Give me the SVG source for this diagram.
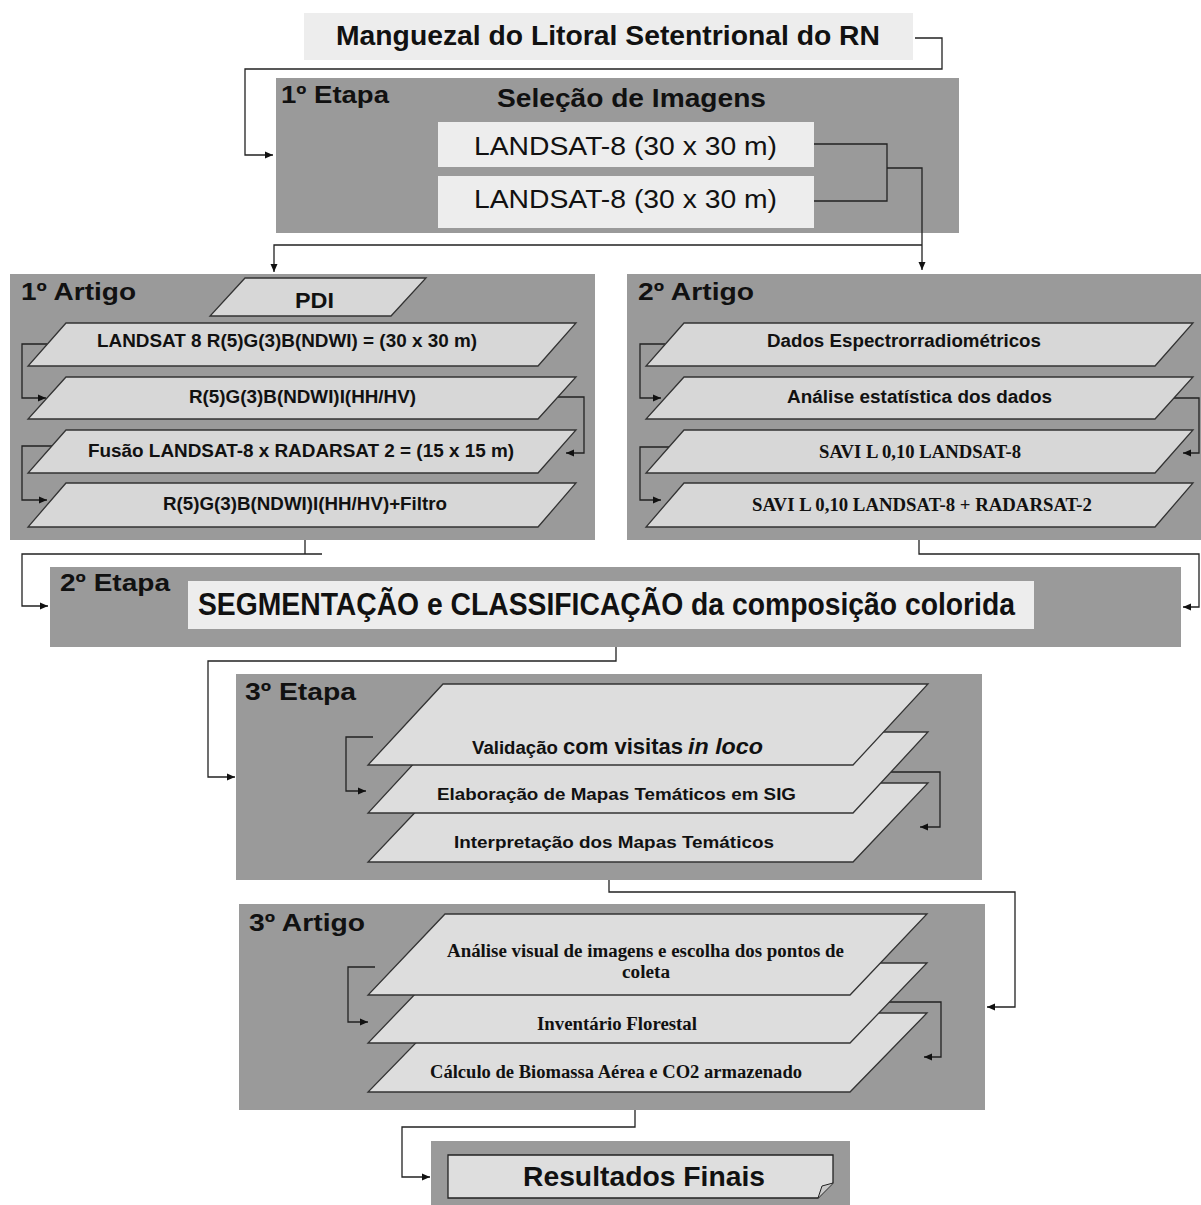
<svg xmlns="http://www.w3.org/2000/svg" width="1201" height="1205" viewBox="0 0 1201 1205">
<defs>
<style>
.panel{fill:#9a9a9a}
.lbox{fill:#ededed}
.para{fill:#d7d7d7;stroke:#333;stroke-width:1.3}
.para3{fill:#dddddd;stroke:#333;stroke-width:1.3}
.conn{fill:none;stroke:#222;stroke-width:1.3}
.arr{marker-end:url(#ah)}
text{fill:#111}
.b{font-family:"Liberation Sans",Arial,sans-serif;font-weight:bold}
.r{font-family:"Liberation Sans",Arial,sans-serif}
.sb{font-family:"Liberation Serif","Times New Roman",serif;font-weight:bold}
</style>
<marker id="ah" markerWidth="9" markerHeight="8" refX="8" refY="4" orient="auto" markerUnits="userSpaceOnUse">
<path d="M0,0.5 L8,4 L0,7.5 z" fill="#111"/>
</marker>
</defs>
<rect width="1201" height="1205" fill="#ffffff"/>

<!-- panels -->
<g id="etapa1-panel"><rect class="panel" x="276" y="78" width="683" height="155"/></g>
<g id="artigo1-panel"><rect class="panel" x="10" y="274" width="585" height="266"/></g>
<g id="artigo2-panel"><rect class="panel" x="627" y="274" width="574" height="266"/></g>
<g id="etapa2-panel"><rect class="panel" x="50" y="567" width="1131" height="80"/></g>
<g id="etapa3-panel"><rect class="panel" x="236" y="674" width="746" height="206"/></g>
<g id="artigo3-panel"><rect class="panel" x="239" y="904" width="746" height="206"/></g>
<g id="resultados-panel"><rect class="panel" x="431" y="1141" width="419" height="64"/></g>

<!-- connectors -->
<g id="connectors">
<path class="conn arr" d="M915,38 H942 V69 H245 V155 H273"/>
<path class="conn" d="M814,144 H887 V201 H814"/>
<path class="conn arr" d="M887,168 H922 V270"/>
<path class="conn arr" d="M922,245 H274 V272"/>
<path class="conn arr" d="M47,344 H22 V398 H46"/>
<path class="conn arr" d="M558,397 H584 V453 H566"/>
<path class="conn arr" d="M52,446 H22 V500 H47"/>
<path class="conn arr" d="M665,344 H640 V398 H661"/>
<path class="conn arr" d="M1174,398 H1199 V453 H1183"/>
<path class="conn arr" d="M669,447 H640 V500 H661"/>
<path class="conn" d="M305,540 V554"/>
<path class="conn arr" d="M322,554 H22 V606 H48"/>
<path class="conn arr" d="M919,540 V554 H1199 V607 H1183"/>
<path class="conn arr" d="M616,647 V661 H208 V777 H235"/>
<path class="conn arr" d="M373,737 H346 V791 H366"/>
<path class="conn arr" d="M891,772 H940 V827 H920"/>
<path class="conn arr" d="M609,880 V892 H1015 V1007 H987"/>
<path class="conn arr" d="M375,967 H348 V1022 H368"/>
<path class="conn arr" d="M880,1002 H941 V1057 H924"/>
<path class="conn arr" d="M635,1110 V1127 H402 V1177 H430"/>
</g>

<!-- title -->
<g id="manguezal">
<rect class="lbox" x="304" y="13" width="609" height="47"/>
<text class="b" x="336" y="45" font-size="27" textLength="544" lengthAdjust="spacingAndGlyphs">Manguezal do Litoral Setentrional do RN</text>
</g>

<!-- 1a etapa -->
<g id="etapa1-labels">
<text class="b" x="281" y="103" font-size="24" textLength="108" lengthAdjust="spacingAndGlyphs">1º Etapa</text>
<text class="b" x="497" y="107" font-size="26" textLength="269" lengthAdjust="spacingAndGlyphs">Seleção de Imagens</text>
</g>
<g id="landsat1">
<rect class="lbox" x="438" y="122" width="376" height="45"/>
<text class="r" x="474" y="155" font-size="26" textLength="303" lengthAdjust="spacingAndGlyphs">LANDSAT-8  (30 x 30 m)</text>
</g>
<g id="landsat2">
<rect class="lbox" x="438" y="176" width="376" height="52"/>
<text class="r" x="474" y="208" font-size="26" textLength="303" lengthAdjust="spacingAndGlyphs">LANDSAT-8  (30 x 30 m)</text>
</g>

<!-- 1o artigo -->
<g id="artigo1-label">
<text class="b" x="21" y="300" font-size="24" textLength="115" lengthAdjust="spacingAndGlyphs">1º Artigo</text>
</g>
<g id="pdi">
<polygon class="para" points="245,278 426,278 391,316 210,316"/>
<text class="b" x="295" y="308" font-size="22" textLength="39" lengthAdjust="spacingAndGlyphs">PDI</text>
</g>
<g id="a1-p1">
<polygon class="para" points="66,323 576,323 538,366 28,366"/>
<text class="b" x="97" y="347" font-size="18" textLength="380" lengthAdjust="spacingAndGlyphs">LANDSAT 8 R(5)G(3)B(NDWI) = (30 x 30 m)</text>
</g>
<g id="a1-p2">
<polygon class="para" points="66,377 576,377 538,419 28,419"/>
<text class="b" x="189" y="403" font-size="18" textLength="227" lengthAdjust="spacingAndGlyphs">R(5)G(3)B(NDWI)I(HH/HV)</text>
</g>
<g id="a1-p3">
<polygon class="para" points="66,430 576,430 538,473 28,473"/>
<text class="b" x="88" y="457" font-size="18" textLength="426" lengthAdjust="spacingAndGlyphs">Fusão LANDSAT-8 x RADARSAT 2 = (15 x 15 m)</text>
</g>
<g id="a1-p4">
<polygon class="para" points="66,483 576,483 538,527 28,527"/>
<text class="b" x="163" y="510" font-size="18" textLength="284" lengthAdjust="spacingAndGlyphs">R(5)G(3)B(NDWI)I(HH/HV)+Filtro</text>
</g>

<!-- 2o artigo -->
<g id="artigo2-label">
<text class="b" x="638" y="300" font-size="24" textLength="116" lengthAdjust="spacingAndGlyphs">2º Artigo</text>
</g>
<g id="a2-p1">
<polygon class="para" points="684,323 1193,323 1155,366 646,366"/>
<text class="b" x="767" y="347" font-size="18" textLength="274" lengthAdjust="spacingAndGlyphs">Dados Espectrorradiométricos</text>
</g>
<g id="a2-p2">
<polygon class="para" points="684,377 1193,377 1155,419 646,419"/>
<text class="b" x="787" y="403" font-size="18" textLength="265" lengthAdjust="spacingAndGlyphs">Análise estatística dos dados</text>
</g>
<g id="a2-p3">
<polygon class="para" points="684,430 1193,430 1155,473 646,473"/>
<text class="sb" x="819" y="458" font-size="18" textLength="202" lengthAdjust="spacingAndGlyphs">SAVI L 0,10 LANDSAT-8</text>
</g>
<g id="a2-p4">
<polygon class="para" points="684,483 1193,483 1155,527 646,527"/>
<text class="sb" x="752" y="511" font-size="18" textLength="340" lengthAdjust="spacingAndGlyphs">SAVI L 0,10 LANDSAT-8 + RADARSAT-2</text>
</g>

<!-- 2a etapa -->
<g id="etapa2-label">
<text class="b" x="60" y="591" font-size="24" textLength="110" lengthAdjust="spacingAndGlyphs">2º Etapa</text>
</g>
<g id="segmentacao">
<rect class="lbox" x="188" y="581" width="846" height="48"/>
<text class="b" x="198" y="615" font-size="31" textLength="817" lengthAdjust="spacingAndGlyphs">SEGMENTAÇÃO e CLASSIFICAÇÃO da composição colorida</text>
</g>

<!-- 3a etapa -->
<g id="etapa3-label">
<text class="b" x="245" y="700" font-size="24" textLength="111" lengthAdjust="spacingAndGlyphs">3º Etapa</text>
</g>
<g id="e3-p3">
<polygon class="para3" points="443,783 928,783 853,862 368,862"/>
<text class="b" x="454" y="848" font-size="17" textLength="320" lengthAdjust="spacingAndGlyphs">Interpretação dos Mapas Temáticos</text>
</g>
<g id="e3-p2">
<polygon class="para3" points="443,732 928,732 853,813 368,813"/>
<text class="b" x="437" y="800" font-size="17" textLength="359" lengthAdjust="spacingAndGlyphs">Elaboração de Mapas Temáticos em SIG</text>
</g>
<g id="e3-p1">
<polygon class="para3" points="443,684 928,684 853,765 368,765"/>
<text class="b" y="754"><tspan x="472" font-size="18" textLength="86" lengthAdjust="spacingAndGlyphs">Validação</tspan><tspan x="563" font-size="22" textLength="120" lengthAdjust="spacingAndGlyphs">com visitas</tspan><tspan x="688" font-size="22" font-style="italic" textLength="75" lengthAdjust="spacingAndGlyphs">in loco</tspan></text>
</g>

<!-- 3o artigo -->
<g id="artigo3-label">
<text class="b" x="249" y="931" font-size="24" textLength="116" lengthAdjust="spacingAndGlyphs">3º Artigo</text>
</g>
<g id="a3-p3">
<polygon class="para3" points="445,1013 927,1013 850,1092 368,1092"/>
<text class="sb" x="430" y="1078" font-size="18" textLength="372" lengthAdjust="spacingAndGlyphs">Cálculo de Biomassa Aérea e CO2 armazenado</text>
</g>
<g id="a3-p2">
<polygon class="para3" points="445,963 927,963 850,1043 368,1043"/>
<text class="sb" x="537" y="1030" font-size="18" textLength="160" lengthAdjust="spacingAndGlyphs">Inventário  Florestal</text>
</g>
<g id="a3-p1">
<polygon class="para3" points="445,914 927,914 850,995 368,995"/>
<text class="sb" x="447" y="957" font-size="18" textLength="397" lengthAdjust="spacingAndGlyphs">Análise visual de imagens e escolha dos pontos de</text>
<text class="sb" x="622" y="978" font-size="18" textLength="48" lengthAdjust="spacingAndGlyphs">coleta</text>
</g>

<!-- resultados -->
<g id="resultados">
<path d="M448,1155 H833 V1183 L818,1198 H448 Z" fill="#dedede" stroke="#222" stroke-width="1.3"/>
<path d="M833,1183 L822,1186 L818,1198" fill="#c8c8c8" stroke="#222" stroke-width="1"/>
<text class="b" x="523" y="1186" font-size="28" textLength="242" lengthAdjust="spacingAndGlyphs">Resultados Finais</text>
</g>
</svg>
